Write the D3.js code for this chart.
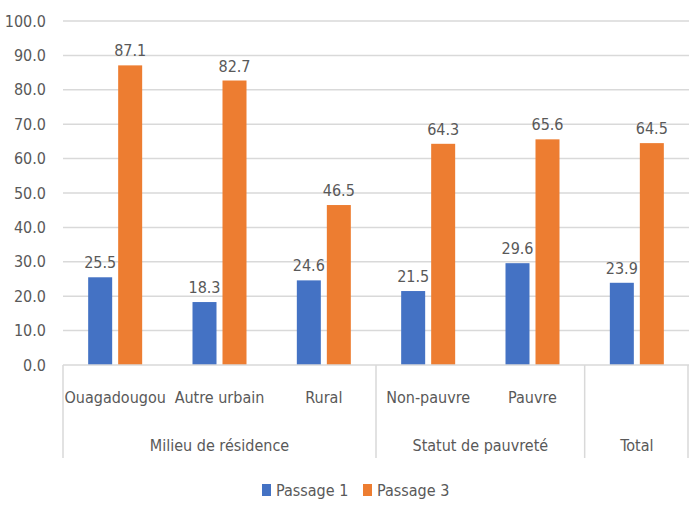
<!DOCTYPE html>
<html>
<head>
<meta charset="utf-8">
<script src="https://cdn.jsdelivr.net/npm/d3@7"></script>
<style>
  body { margin: 0; background: #fff; }
  text { font-family: "Liberation Sans Narrow", "DejaVu Sans Condensed", "Roboto", sans-serif; fill: #595959; }
</style>
</head>
<body>
<svg id="chart"></svg>
<script>
const categories = ["Ouagadougou", "Autre urbain", "Rural", "Non-pauvre", "Pauvre", "Total"];
const categoryLabels = ["Ouagadougou", "Autre urbain", "Rural", "Non-pauvre", "Pauvre", ""];
const groups = [
  {name: "Milieu de résidence", from: 0, to: 3},
  {name: "Statut de pauvreté", from: 3, to: 5},
  {name: "Total", from: 5, to: 6}
];
const seriesNames = ["Passage 1", "Passage 3"];
const passage1 = [25.5, 18.3, 24.6, 21.5, 29.6, 23.9];
const passage3 = [87.1, 82.7, 46.5, 64.3, 65.6, 64.5];
const yTicks = [0, 10, 20, 30, 40, 50, 60, 70, 80, 90, 100];
const colors = ["#4472C4", "#ED7D31"];

const width = 689;
const height = 513;
const margin = {top: 21, right: 0, bottom: 148, left: 63};
const viewWidth = width - margin.left - margin.right;
const viewHeight = height - margin.top - margin.bottom;

const svg = d3.select("#chart").attr("width", width).attr("height", height);
const g = svg.append("g").attr("transform", "translate(" + margin.left + "," + margin.top + ")");

const x = d3.scaleBand().domain(categories).range([0, viewWidth]);
const y = d3.scaleLinear().domain([0, 100]).range([viewHeight, 0]);

// grid
g.append("g").selectAll("line").data(yTicks.slice(1)).enter().append("line")
  .attr("x1", 0).attr("x2", viewWidth)
  .attr("y1", d => y(d)).attr("y2", d => y(d))
  .attr("stroke", "#d9d9d9").attr("stroke-width", 1.5);

// y axis labels
const yAxis = g.append("g")
  .call(d3.axisLeft(y).tickValues(yTicks).tickFormat(d3.format(".1f")).tickSize(0).tickPadding(17));
yAxis.select(".domain").remove();
yAxis.selectAll("text").style("font-size", "16px").attr("fill", "#595959");

const barW = 24, gap = 6;
const table = categories.map((c, i) => ({cat: c, vals: [passage1[i], passage3[i]]}));

const cat = g.selectAll(".cat").data(table).enter().append("g")
  .attr("transform", d => "translate(" + x(d.cat) + ",0)");

cat.selectAll("rect").data(d => d.vals).enter().append("rect")
  .attr("x", (d, i) => x.bandwidth() / 2 - barW - gap / 2 + i * (barW + gap))
  .attr("y", d => y(d))
  .attr("width", barW)
  .attr("height", d => viewHeight - y(d))
  .attr("fill", (d, i) => colors[i]);

cat.selectAll(".lbl").data(d => d.vals).enter().append("text")
  .attr("class", "lbl")
  .attr("x", (d, i) => x.bandwidth() / 2 - barW / 2 - gap / 2 + i * (barW + gap))
  .attr("y", d => y(d) - 9)
  .attr("text-anchor", "middle")
  .style("font-size", "16px")
  .attr("fill", "#404040")
  .text(d => d.toFixed(1));

// baseline
g.append("line").attr("x1", 0).attr("x2", viewWidth)
  .attr("y1", viewHeight).attr("y2", viewHeight)
  .attr("stroke", "#d9d9d9").attr("stroke-width", 1.5);

// category labels
g.append("g").selectAll("text").data(categories).enter().append("text")
  .attr("x", d => x(d) + x.bandwidth() / 2)
  .attr("y", viewHeight + 38)
  .attr("text-anchor", "middle")
  .style("font-size", "16px")
  .text((d, i) => categoryLabels[i]);

// group separators
const sepIdx = [0, 3, 5, 6];
g.append("g").selectAll("line").data(sepIdx).enter().append("line")
  .attr("x1", d => Math.min(d * x.bandwidth(), viewWidth - 1))
  .attr("x2", d => Math.min(d * x.bandwidth(), viewWidth - 1))
  .attr("y1", viewHeight).attr("y2", viewHeight + 93)
  .attr("stroke", "#d9d9d9").attr("stroke-width", 1.5);

g.append("g").selectAll("text").data(groups).enter().append("text")
  .attr("x", d => (d.from + d.to) / 2 * x.bandwidth())
  .attr("y", viewHeight + 86)
  .attr("text-anchor", "middle")
  .style("font-size", "16px")
  .text(d => d.name);

// legend
const legendX = [262, 363];
const legend = svg.append("g").selectAll("g").data(seriesNames).enter().append("g")
  .attr("transform", (d, i) => "translate(" + legendX[i] + ",483)");
legend.append("rect").attr("width", 9).attr("height", 12).attr("y", 1)
  .attr("fill", (d, i) => colors[i]);
legend.append("text").attr("x", 14).attr("y", 13)
  .style("font-size", "16px").text(d => d);
</script>
</body>
</html>
